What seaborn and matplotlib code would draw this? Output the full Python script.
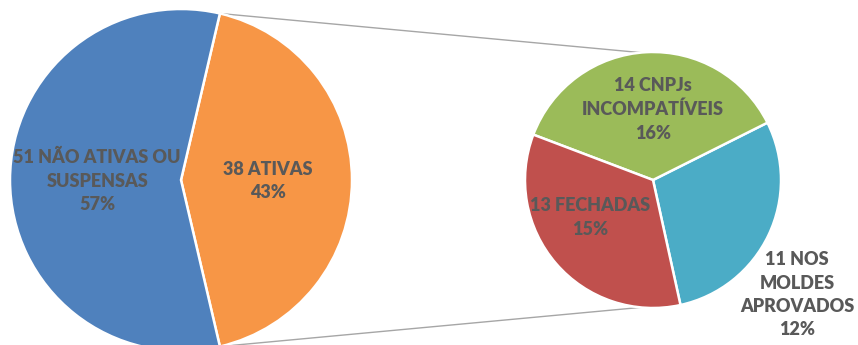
import numpy as np
import matplotlib
matplotlib.use("Agg")
import matplotlib.pyplot as plt
import seaborn as sns

# Main pie: companies by situation
main_labels = ["38 ATIVAS", "51 NÃO ATIVAS OU\nSUSPENSAS"]
main_values = [38, 51]
main_colors = ["#F79646", "#4F81BD"]

# Secondary pie: breakdown of the active companies
sub_labels = ["11 NOS\nMOLDES\nAPROVADOS", "14 CNPJs\nINCOMPATÍVEIS", "13 FECHADAS"]
sub_values = [11, 14, 13]
sub_colors = ["#4BACC6", "#9BBB59", "#C0504D"]

sns.set_theme(style="white")
plt.rcParams["font.family"] = ["Lato", "DejaVu Sans"]

W, H = 858, 345
fig = plt.figure(figsize=(W / 100, H / 100), dpi=100)
ax = fig.add_axes([0, 0, 1, 1])
ax.set_xlim(0, W)
ax.set_ylim(0, H)
ax.set_aspect("equal")
ax.axis("off")

total = sum(main_values)
main_c, main_r = (181, 165), 171
sub_c, sub_r = (653, 165), 128

# orange slice centred on the right-hand side
start_main = -180 * main_values[0] / total
wedges_main, _ = ax.pie(main_values, colors=main_colors, startangle=start_main,
                        counterclock=True, center=main_c, radius=main_r,
                        wedgeprops=dict(edgecolor="white", linewidth=1.8))
wedges_sub, _ = ax.pie(sub_values, colors=sub_colors, startangle=-77.6,
                       counterclock=True, center=sub_c, radius=sub_r,
                       wedgeprops=dict(edgecolor="white", linewidth=1.8))
ax.set_xlim(0, W)
ax.set_ylim(0, H)

# connector lines between the orange slice edges and the secondary pie
t1 = np.deg2rad(wedges_main[0].theta2)
t2 = np.deg2rad(wedges_main[0].theta1)
for t, sy in [(t1, 1), (t2, -1)]:
    x0 = main_c[0] + main_r * np.cos(t)
    y0 = main_c[1] + main_r * np.sin(t)
    x1 = sub_c[0] - 8
    y1 = sub_c[1] + sy * (sub_r - 1)
    ax.plot([x0, x1], [y0, y1], color="#A6A6A6", lw=1.0, zorder=0)

txt = dict(ha="center", va="center", color="#595959", fontsize=13,
           fontweight="heavy", linespacing=1.45)

def pct(v):
    return f"{round(100 * v / total):.0f}%"

def place(wedge, center, r, frac, dang=0.0):
    a = np.deg2rad((wedge.theta1 + wedge.theta2) / 2 + dang)
    return center[0] + frac * r * np.cos(a), center[1] + frac * r * np.sin(a)

# main pie labels
x, y = place(wedges_main[1], main_c, main_r, 0.49)
ax.text(x, y - 1, f"{main_labels[1]}\n{pct(main_values[1])}", **txt)
x, y = place(wedges_main[0], main_c, main_r, 0.51)
ax.text(x, y - 1, f"{main_labels[0]}\n{pct(main_values[0])}", **txt)

# secondary pie labels
x, y = place(wedges_sub[1], sub_c, sub_r, 0.55, -3)
ax.text(x, y, f"{sub_labels[1]}\n{pct(sub_values[1])}", **txt)
x, y = place(wedges_sub[2], sub_c, sub_r, 0.57, -10)
ax.text(x, y, f"{sub_labels[2]}\n{pct(sub_values[2])}", **txt)
x, y = place(wedges_sub[0], sub_c, sub_r, 1.44, -13)
ax.text(x, y, f"{sub_labels[0]}\n{pct(sub_values[0])}", **txt)

fig.savefig("out.png", dpi=100)
